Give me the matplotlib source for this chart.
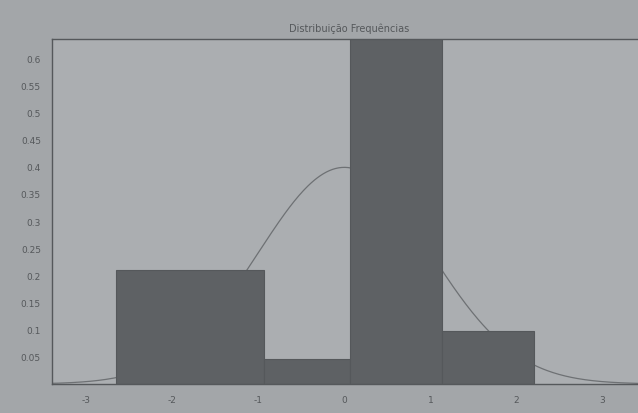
import numpy as np
import matplotlib
matplotlib.use("Agg")
import matplotlib.pyplot as plt
from matplotlib.ticker import FuncFormatter

plt.rcParams["axes.unicode_minus"] = False

title = "Distribuição Frequências"
bin_edges = [-2.65, -0.94, 0.07, 1.14, 2.2]
bar_heights = [0.21, 0.046, 0.64, 0.098]
x_ticks = [-3, -2, -1, 0, 1, 2, 3]
y_ticks = [0.05, 0.1, 0.15, 0.2, 0.25, 0.3, 0.35, 0.4, 0.45, 0.5, 0.55, 0.6]

fig = plt.figure(figsize=(6.38, 4.14), dpi=100, facecolor="#a3a6a9")
ax = fig.add_axes([0.0815, 0.07, 0.93, 0.833])
ax.set_facecolor("#abaeb1")

lefts = np.array(bin_edges[:-1])
widths = np.diff(bin_edges)
ax.bar(lefts, bar_heights, width=widths, align="edge", color="#5e6164",
       edgecolor="#55585b", linewidth=0.8, zorder=2)

xs = np.linspace(-3.5, 3.6, 400)
pdf = np.exp(-xs**2 / 2) / np.sqrt(2 * np.pi)
ax.plot(xs, pdf, color="#6e7174", linewidth=0.9, zorder=1)

ax.set_xlim(-3.4, 3.5)
ax.set_ylim(0, 0.635)
ax.set_xticks(x_ticks)
ax.set_yticks(y_ticks)
ax.yaxis.set_major_formatter(FuncFormatter(lambda v, p: "%g" % v))
ax.tick_params(axis="both", labelsize=6.5, colors="#55585b", length=0, pad=8)
for s in ax.spines.values():
    s.set_color("#55585b")
    s.set_linewidth(1.0)
ax.set_title(title, fontsize=7, color="#55585b", pad=6)

fig.savefig("out.png", dpi=100, facecolor=fig.get_facecolor())
